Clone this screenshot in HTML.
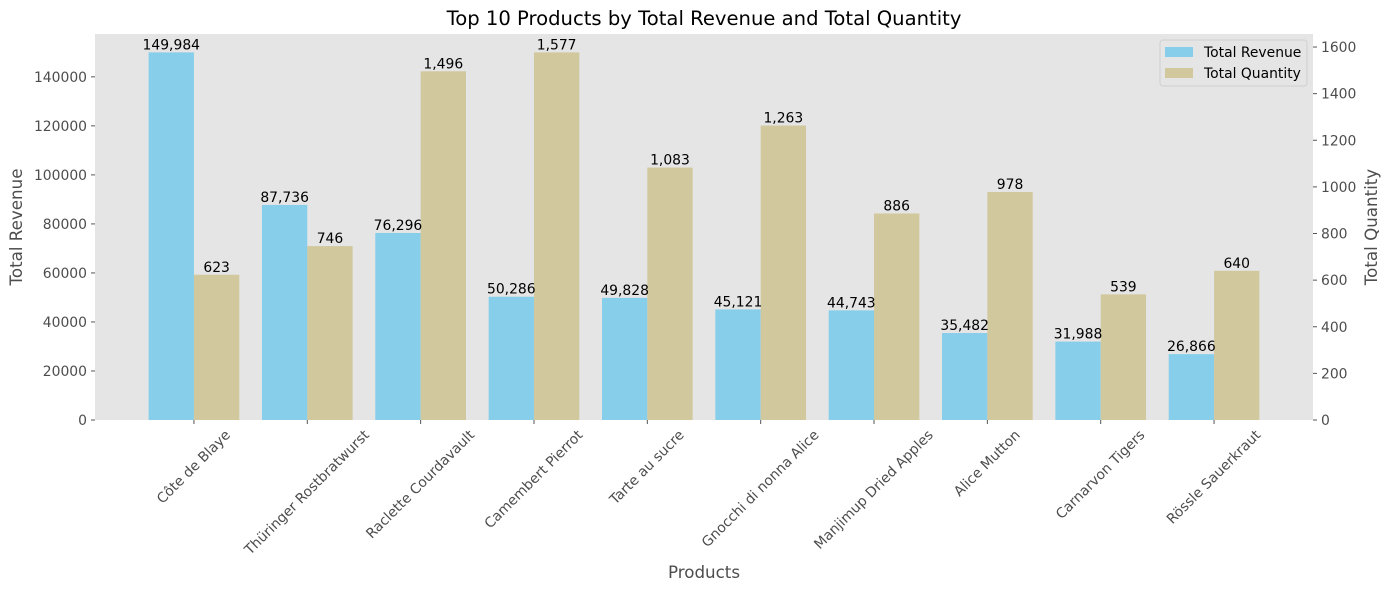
<!DOCTYPE html>
<html><head><meta charset="utf-8"><style>
body{margin:0;background:#fff}
svg{display:block;font-family:"DejaVu Sans","Liberation Sans",sans-serif}
</style></head><body>
<svg id="c" width="1389" height="590"></svg>
<script>
const categories=["Côte de Blaye","Thüringer Rostbratwurst","Raclette Courdavault","Camembert Pierrot","Tarte au sucre","Gnocchi di nonna Alice","Manjimup Dried Apples","Alice Mutton","Carnarvon Tigers","Rössle Sauerkraut"];
const revenue=[149984,87736,76296,50286,49828,45121,44743,35482,31988,26866];
const quantity=[623,746,1496,1577,1083,1263,886,978,539,640];
const leftTicks=[0,20000,40000,60000,80000,100000,120000,140000];
const rightTicks=[0,200,400,600,800,1000,1200,1400,1600];

const NS="http://www.w3.org/2000/svg";
const svg=document.getElementById('c');
const L=95,R=1313,T=34,B=420;
const FS=13.9;
const lmax=Math.max(...revenue)*1.05, rmax=Math.max(...quantity)*1.05;
const n=categories.length;
const step=(R-L)/(n-1+2*0.873);
const xc=i=>L+0.873*step+i*step;
const yl=v=>B-(v/lmax)*(B-T);
const yr=v=>B-(v/rmax)*(B-T);
const bw=0.4*step;
function el(tag,attrs,txt){const e=document.createElementNS(NS,tag);for(const k in attrs)e.setAttribute(k,attrs[k]);if(txt!==undefined)e.textContent=txt;svg.appendChild(e);return e;}
const fmt=v=>v.toLocaleString('en-US');

let bg=el('rect',{x:L,y:T,width:R-L,height:B-T,fill:'#e5e5e5'});



for(let i=0;i<n;i++){
  const x=xc(i);
  let r=el('rect',{x:x-bw,y:yl(revenue[i]),width:bw,height:B-yl(revenue[i]),fill:'#87ceeb'});
  
  
  let q=el('rect',{x:x,y:yr(quantity[i]),width:bw,height:B-yr(quantity[i]),fill:'#d1c89e'});
  
  
  let t1=el('text',{x:x-bw/2,y:yl(revenue[i])-3,'text-anchor':'middle','font-size':FS,fill:'#000'},fmt(revenue[i]));
  
  
  let t2=el('text',{x:x+bw/2,y:yr(quantity[i])-3,'text-anchor':'middle','font-size':FS,fill:'#000'},fmt(quantity[i]));
  
  
  el('line',{x1:x,x2:x,y1:B,y2:B+4,stroke:'#555'});
  let xl=el('text',{x:x,y:0,'text-anchor':'middle','dominant-baseline':'central','font-size':FS,fill:'#4d4d4d'},categories[i]);
  
  
  const len=xl.getComputedTextLength();
  const cy=B+8+(len*0.7071+FS*0.7071)/2;
  xl.setAttribute('y',cy);
  xl.setAttribute('transform',`rotate(-45 ${x} ${cy})`);
}
leftTicks.forEach(v=>{
  const y=yl(v);
  el('line',{x1:L-4,x2:L,y1:y,y2:y,stroke:'#555'});
  let t=el('text',{x:L-8,y:y+5,'text-anchor':'end','font-size':FS,fill:'#4d4d4d'},String(v));
  
  
});
rightTicks.forEach(v=>{
  const y=yr(v);
  el('line',{x1:R,x2:R+4,y1:y,y2:y,stroke:'#555'});
  let t=el('text',{x:R+8,y:y+5,'font-size':FS,fill:'#4d4d4d'},String(v));
  
  
});
let title=el('text',{x:(L+R)/2,y:25,'text-anchor':'middle','font-size':19.6,fill:'#000'},'Top 10 Products by Total Revenue and Total Quantity');


let xt=el('text',{x:(L+R)/2,y:578,'text-anchor':'middle','font-size':16.7,fill:'#4d4d4d'},'Products');


let ylt=el('text',{x:22,y:227,'text-anchor':'middle','font-size':16.7,fill:'#4d4d4d',transform:'rotate(-90 22 227)'},'Total Revenue');


let yrt=el('text',{x:1377,y:227,'text-anchor':'middle','font-size':16.7,fill:'#4d4d4d',transform:'rotate(-90 1377 227)'},'Total Quantity');


let lg=el('rect',{x:1160,y:40,width:147,height:46,fill:'#e5e5e5',stroke:'#d0d0d0',rx:3});


el('rect',{x:1165,y:47,width:28,height:10,fill:'#87ceeb'});
let l1=el('text',{x:1204,y:57,'font-size':FS,fill:'#000'},'Total Revenue');


el('rect',{x:1165,y:68,width:28,height:10,fill:'#d1c89e'});
let l2=el('text',{x:1204,y:78,'font-size':FS,fill:'#000'},'Total Quantity');


</script>
</body></html>
